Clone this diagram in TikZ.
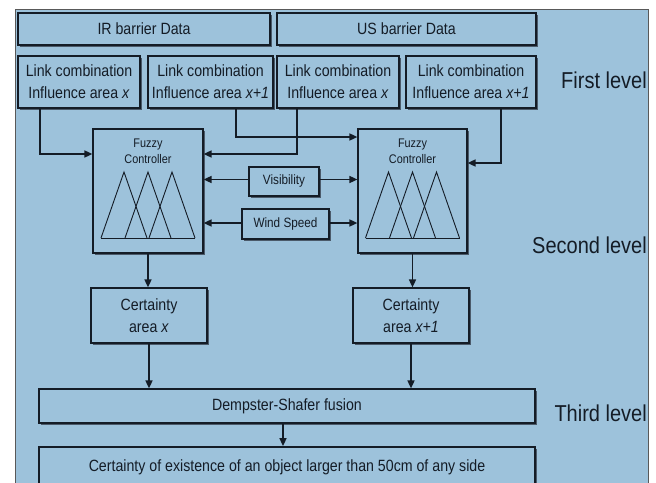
\documentclass[tikz,border=0pt]{standalone}
\usepackage{fontspec}
\setmainfont{Liberation Sans}[FakeStretch=0.87]
\usetikzlibrary{shadows,arrows.meta,calc}
\definecolor{bgblue}{RGB}{157,194,219}
\definecolor{ink}{RGB}{20,28,38}
\definecolor{shade}{RGB}{55,65,78}
\begin{document}
\begin{tikzpicture}[x=1pt,y=-1pt,
 box/.style={draw=ink, fill=bgblue, line width=1.2pt, inner sep=0pt, align=center,
   font=\fontsize{16.3}{22}\selectfont, text=ink,
   drop shadow={shadow xshift=2pt, shadow yshift=-2pt, fill=shade, opacity=0.8}},
 thickbox/.style={box, line width=2.4pt},
 arr/.style={draw=ink, line width=1.6pt, -{Triangle[length=8pt,width=7pt]}},
 tri/.style={draw=ink, line width=0.9pt},
 small/.style={font=\fontsize{12.5}{16}\selectfont, text=ink, align=center, inner sep=0pt, anchor=north},
 lvl/.style={font=\fontsize{23}{26}\selectfont, text=ink, anchor=east, inner sep=0pt}]
\clip (0,0) rectangle (656,482);
\fill[white] (0,0) rectangle (656,482);
\draw[fill=bgblue, draw=gray!70!black, line width=1pt] (15,9) rectangle (648,500);

% first level
\node[thickbox, minimum width=252pt, minimum height=32pt] (ir) at (144,29) {IR barrier Data};
\node[thickbox, minimum width=259pt, minimum height=32pt] (us) at (406.5,29) {US barrier Data};
\node[box, minimum width=122pt, minimum height=52pt] (b1) at (79,82) {Link combination\\Influence area \textit{x}};
\node[box, minimum width=125pt, minimum height=52pt] (b2) at (210.5,82) {Link combination\\Influence area \textit{x+1}};
\node[box, minimum width=122pt, minimum height=52pt] (b3) at (338,82) {Link combination\\Influence area \textit{x}};
\node[box, minimum width=130pt, minimum height=52pt] (b4) at (471,82) {Link combination\\Influence area \textit{x+1}};

% second level
\node[box, minimum width=110pt, minimum height=124pt] (fcl) at (148,191) {};
\node[box, minimum width=109pt, minimum height=124pt] (fcr) at (412.5,191) {};
\node[small] (fclt) at ([yshift=-10pt]fcl.north) {Fuzzy\\Controller};
\node[small] (fcrt) at ([yshift=-10pt]fcr.north) {Fuzzy\\Controller};
\foreach \c in {fcl,fcr}{
 \begin{scope}[shift={(\c.center)}]
  \draw[tri] (-47,47) -- (-24,-19) -- (-1,47);
  \draw[tri] (-23,47) -- (0,-19) -- (23,47);
  \draw[tri] (1,47) -- (24,-19) -- (47,47);
  \draw[tri] (-47,47) -- (47,47);
 \end{scope}
}
\node[box, font=\fontsize{13.5}{16}\selectfont, minimum width=70pt, minimum height=29pt] (vis) at (284,181.5) {Visibility};
\node[box, font=\fontsize{13.5}{16}\selectfont, minimum width=87pt, minimum height=30pt] (wind) at (285.5,224) {Wind Speed};

\node[box, minimum width=116pt, minimum height=55pt] (cl) at (149,315.5) {Certainty\\area \textit{x}};
\node[box, minimum width=116pt, minimum height=55pt] (cr) at (411,315.5) {Certainty\\area \textit{x+1}};

% third level
\node[box, minimum width=496pt, minimum height=34pt] (ds) at (287,406) {Dempster-Shafer fusion};
\node[thickbox, line width=1.8pt, minimum width=496pt, minimum height=40pt] (fin) at (287,467) {Certainty of existence of an object larger than 50cm of any side};

% level labels
\node[lvl] (l1) at (647,80) {First level};
\node[lvl] (l2) at (647,245) {Second level};
\node[lvl] (l3) at (647,413) {Third level};

% connectors
\draw[arr] ([xshift=-39pt]b1.south) |- ([yshift=37pt]fcl.west);
\draw[arr] ([xshift=25.5pt]b2.south) |- ([yshift=54pt]fcr.west);
\draw[arr] ([xshift=-41pt]b3.south) |- ([yshift=37pt]fcl.east);
\draw[arr] ([xshift=30pt]b4.south) |- ([yshift=28pt]fcr.east);
\draw[arr] ([yshift=2pt]vis.west) -- ([yshift=2pt]vis.west -| fcl.east);
\draw[arr] ([yshift=2pt]vis.east) -- ([yshift=2pt]vis.east -| fcr.west);
\draw[arr] ([yshift=1pt]wind.west) -- ([yshift=1pt]wind.west -| fcl.east);
\draw[arr] ([yshift=1pt]wind.east) -- ([yshift=1pt]wind.east -| fcr.west);
\draw[arr] (fcl.south) -- (fcl.south |- cl.north);
\draw[arr] (fcr.south) -- (fcr.south |- cr.north);
\draw[arr] (cl.south) -- (cl.south |- ds.north);
\draw[arr] (cr.south) -- (cr.south |- ds.north);
\draw[arr] ([xshift=-4pt]ds.south) -- ([xshift=-4pt]fin.north);
\end{tikzpicture}
\end{document}
